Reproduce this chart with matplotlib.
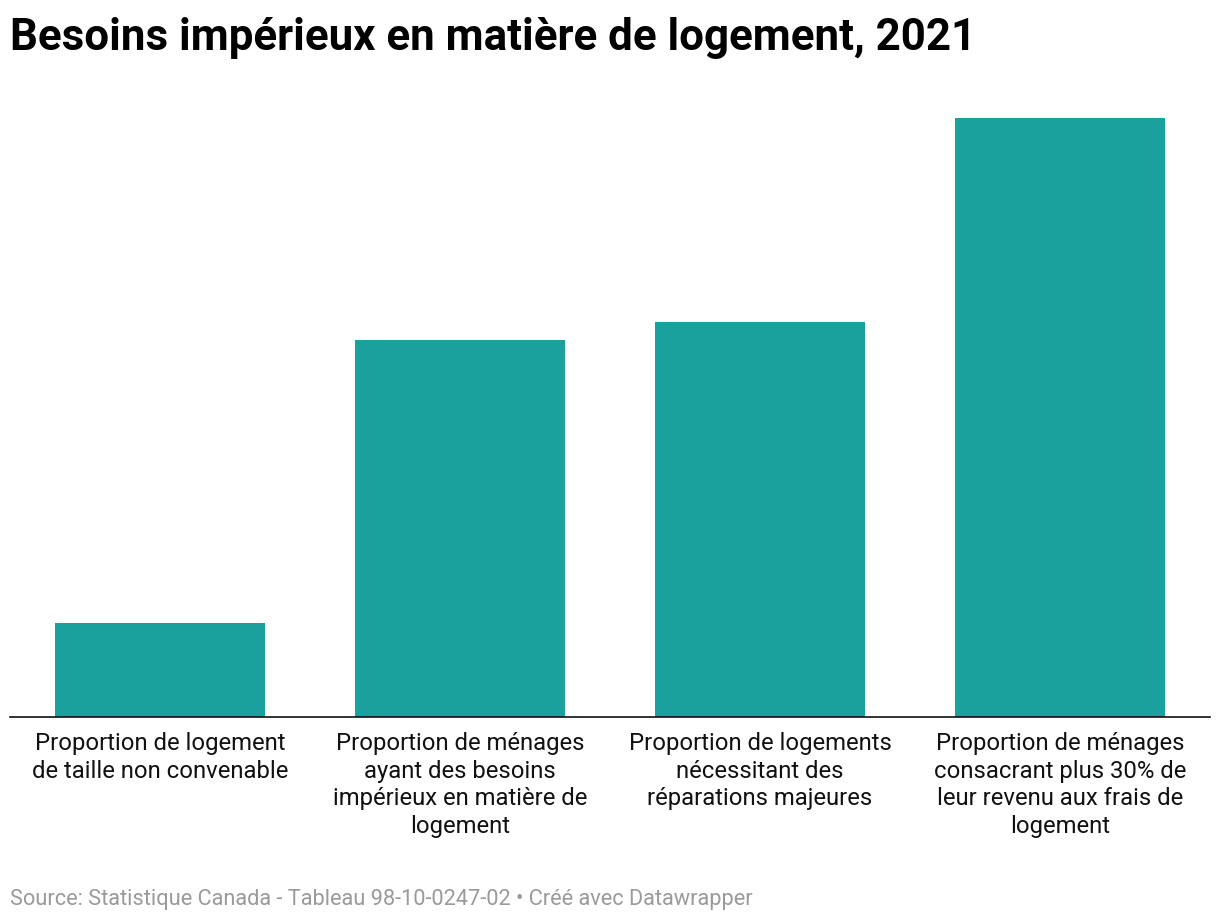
import matplotlib.pyplot as plt

# values (no axis shown in the original)
categories = [
    "Proportion de logement\nde taille non convenable",
    "Proportion de ménages\nayant des besoins\nimpérieux en matière de\nlogement",
    "Proportion de logements\nnécessitant des\nréparations majeures",
    "Proportion de ménages\nconsacrant plus 30% de\nleur revenu aux frais de\nlogement",
]
values = [4.7, 18.9, 19.8, 30.0]

title = "Besoins impérieux en matière de logement, 2021"
source = "Source: Statistique Canada - Tableau 98-10-0247-02 • Créé avec Datawrapper"

plt.rcParams['font.family'] = ['Roboto', 'DejaVu Sans']

fig = plt.figure(figsize=(12.2, 9.22), dpi=100)
ax = fig.add_axes([10/1220, 1 - 717/922, 1200/1220, (717 - 118)/922])

xs = list(range(len(values)))
ax.bar(xs, values, width=0.7, color='#1aa19e')
ax.set_xlim(-0.5, 3.5)
ax.set_ylim(0, 30)

for s in ['top', 'right', 'left']:
    ax.spines[s].set_visible(False)
ax.spines['bottom'].set_linewidth(1.2)
ax.spines['bottom'].set_color('#111111')
ax.set_yticks([])
ax.set_xticks(xs)
ax.set_xticklabels(categories, fontsize=17.2, color='#111111', linespacing=1.25)
ax.tick_params(axis='x', length=0, pad=11)

fig.text(10/1220, 1 - 38/922, title, fontsize=31.6, fontweight='bold',
         color='#000000', va='center', ha='left')
fig.text(10/1220, 1 - 899/922, source, fontsize=15.7, color='#9a9a9a',
         va='center', ha='left')

fig.savefig('out.png', dpi=100)
